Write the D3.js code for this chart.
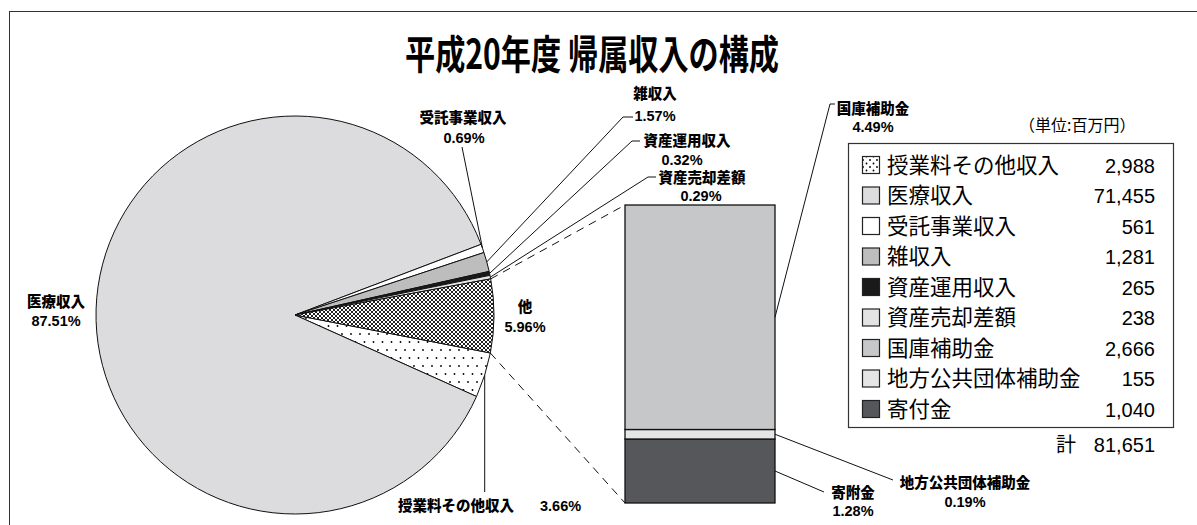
<!DOCTYPE html>
<html>
<head>
<meta charset="utf-8">
<script src="https://cdn.jsdelivr.net/npm/d3@7"></script>
<style>
  body { margin: 0; background: #fff; }
  svg { display: block; }
</style>
</head>
<body>
<script>
'use strict';

// legend order, values in 百万円 as printed
const categories = ['授業料その他収入', '医療収入', '受託事業収入', '雑収入', '資産運用収入',
    '資産売却差額', '国庫補助金', '地方公共団体補助金', '寄付金'];
const amounts = [2988, 71455, 561, 1281, 265, 238, 2666, 155, 1040];
const totalAmount = 81651;
// shares (%) as labelled on the chart
const shares = [3.66, 87.51, 0.69, 1.57, 0.32, 0.29, 4.49, 0.19, 1.28];
const otherName = '他';
const barNames = ['国庫補助金', '地方公共団体補助金', '寄附金'];   // label spelling in chart
const fills = ['url(#dots)', '#dcdcde', '#ffffff', '#bdbdbd', '#1a1a1a', '#e3e3e3', '#c6c7c9', '#e5e5e5', '#56575a'];

const JP = '"Noto Sans CJK JP", "Noto Sans", sans-serif';
const NUM = '"Liberation Sans Narrow", "Liberation Sans", Arial, sans-serif';

let svg = d3.select('body').append('svg').attr('width', 1197).attr('height', 525);
draw(svg);

function draw(svg)
{
    const defs = svg.append('defs');
    let p = defs.append('pattern').attr('id', 'dots').attr('patternUnits', 'userSpaceOnUse')
        .attr('width', 9).attr('height', 16);
    p.append('rect').attr('width', 9).attr('height', 16).attr('fill', '#fff');
    p.append('circle').attr('cx', 2).attr('cy', 3).attr('r', 0.9).attr('fill', '#000');
    p.append('circle').attr('cx', 6.5).attr('cy', 11).attr('r', 0.9).attr('fill', '#000');

    p = defs.append('pattern').attr('id', 'dotsSmall').attr('patternUnits', 'userSpaceOnUse')
        .attr('width', 7).attr('height', 7);
    p.append('rect').attr('width', 7).attr('height', 7).attr('fill', '#fff');
    p.append('circle').attr('cx', 2).attr('cy', 2).attr('r', 0.9).attr('fill', '#000');
    p.append('circle').attr('cx', 5.5).attr('cy', 5.5).attr('r', 0.9).attr('fill', '#000');

    p = defs.append('pattern').attr('id', 'check').attr('patternUnits', 'userSpaceOnUse')
        .attr('width', 4).attr('height', 4);
    p.append('rect').attr('width', 4).attr('height', 4).attr('fill', '#fff');
    p.append('rect').attr('width', 2).attr('height', 2).attr('fill', '#222');
    p.append('rect').attr('x', 2).attr('y', 2).attr('width', 2).attr('height', 2).attr('fill', '#222');

    // frame
    svg.append('rect').attr('x', 9.5).attr('y', 11.5).attr('width', 1200).attr('height', 600)
        .attr('fill', 'none').attr('stroke', '#333').attr('stroke-width', 1);

    svg.append('text')
        .attr('x', 592).attr('y', 69)
        .attr('text-anchor', 'middle')
        .attr('textLength', 374).attr('lengthAdjust', 'spacingAndGlyphs')
        .style('font', `bold 40px ${JP}`)
        .text('平成20年度 帰属収入の構成');

    // ---- pie ----
    const cx = 295, cy = 315, R = 199;
    const deg = Math.PI / 180;
    const start = 101 * deg;
    const otherShare = d3.sum(shares.slice(6));
    let pieData = categories.slice(0, 6).map((c, i) => ({name: c, share: shares[i], fill: fills[i]}));
    pieData.push({name: otherName, share: otherShare, fill: 'url(#check)'});

    const pie = d3.pie().sort(null).value(d => d.share)
        .startAngle(start).endAngle(start + 2 * Math.PI);
    const arcs = pie(pieData);
    const arc = d3.arc().innerRadius(0).outerRadius(R);

    const pieG = svg.append('g').attr('transform', `translate(${cx},${cy})`);
    pieG.selectAll('path').data(arcs).enter().append('path')
        .attr('d', arc)
        .attr('fill', d => d.data.fill)
        .attr('stroke', '#111').attr('stroke-width', 1)
        .attr('stroke-linejoin', 'round');

    const edge = a => [cx + R * Math.sin(a), cy - R * Math.cos(a)];
    const mid = d => edge((d.startAngle + d.endAngle) / 2);

    // ---- bar of "other" ----
    const bx0 = 625, bx1 = 775;
    const y = d3.scaleLinear().domain([0, otherShare]).range([503, 205]);
    let acc = 0;
    const barData = [8, 7, 6].map(i => {
        const d = {i: i, y0: acc, y1: acc + shares[i]};
        acc += shares[i];
        return d;
    });
    svg.append('g').selectAll('rect').data(barData).enter().append('rect')
        .attr('x', bx0).attr('width', bx1 - bx0)
        .attr('y', d => y(d.y1)).attr('height', d => y(d.y0) - y(d.y1))
        .attr('fill', d => fills[d.i])
        .attr('stroke', '#111').attr('stroke-width', 1.3);

    // dashed connectors
    const other = arcs[6];
    const line = d3.line();
    svg.append('path').attr('d', line([edge(other.startAngle), [bx0, y(otherShare)]]))
        .attr('fill', 'none').attr('stroke', '#111').attr('stroke-dasharray', '8,6');
    svg.append('path').attr('d', line([edge(other.endAngle), [bx0, y(0)]]))
        .attr('fill', 'none').attr('stroke', '#111').attr('stroke-dasharray', '8,6');

    // ---- labels ----
    const fmtPct = v => v.toFixed(2) + '%';
    const lab = svg.append('g');
    function label(name, pct, nx, ny, px, py, anchor)
    {
        lab.append('text').attr('x', nx).attr('y', ny).attr('text-anchor', anchor || 'middle')
            .style('font', `900 14.5px ${JP}`).text(name);
        lab.append('text').attr('x', px).attr('y', py).attr('text-anchor', anchor || 'middle')
            .style('font', `bold 14.5px ${NUM}`).text(pct);
    }
    function leader(pts)
    {
        lab.append('path').attr('d', line(pts)).attr('fill', 'none')
            .attr('stroke', '#111').attr('stroke-width', 1);
    }

    label(categories[1], fmtPct(shares[1]), 56, 307, 56, 326);
    label(categories[2], fmtPct(shares[2]), 463, 123, 464, 143);
    leader([mid(arcs[2]), [462, 147]]);
    label(categories[3], fmtPct(shares[3]), 655, 99, 655, 121);
    leader([mid(arcs[3]), [623, 117], [633, 117]]);
    label(categories[4], fmtPct(shares[4]), 687, 146, 682, 165);
    leader([mid(arcs[4]), [632, 141], [640, 141]]);
    label(categories[5], fmtPct(shares[5]), 702, 183, 701, 201);
    leader([mid(arcs[5]), [648, 177], [656, 177]]);
    label(otherName, fmtPct(otherShare), 525, 312, 525, 332);

    const m0 = mid(arcs[0]);
    leader([m0, [m0[0], 492]]);
    label(categories[0], fmtPct(shares[0]), 398, 511, 540, 511, 'start');

    const barMid = d => [bx1, (y(d.y0) + y(d.y1)) / 2];
    label(barNames[0], fmtPct(shares[6]), 873, 114, 873, 132);
    leader([barMid(barData[2]), [830, 104], [835, 104]]);
    label(barNames[1], fmtPct(shares[7]), 965, 488, 965, 507);
    leader([barMid(barData[1]), [893, 480]]);
    label(barNames[2], fmtPct(shares[8]), 853, 498, 853, 516);
    leader([barMid(barData[0]), [824, 492]]);

    // ---- legend ----
    svg.append('text').attr('x', 1019).attr('y', 131)
        .style('font', `16px ${JP}`).text('（単位:百万円）');

    svg.append('rect').attr('x', 848.5).attr('y', 143.5).attr('width', 325).attr('height', 284)
        .attr('fill', '#fff').attr('stroke', '#333').attr('stroke-width', 1.2);

    const rowY = d3.scalePoint().domain(categories).range([165, 409]);
    const fmt = d3.format(',');
    const rows = svg.append('g').selectAll('g').data(categories).enter().append('g')
        .attr('transform', d => `translate(0,${rowY(d)})`);
    rows.append('rect').attr('x', 862.5).attr('y', -8.5).attr('width', 17).attr('height', 17)
        .attr('fill', (d, i) => i === 0 ? 'url(#dotsSmall)' : fills[i])
        .attr('stroke', '#222').attr('stroke-width', 1.2);
    rows.append('text').attr('x', 887).attr('y', 7.5)
        .style('font', `21.5px ${JP}`).text(d => d);
    rows.append('text').attr('x', 1155).attr('y', 7.5).attr('text-anchor', 'end')
        .style('font', `20px ${NUM}`).text((d, i) => fmt(amounts[i]));

    svg.append('text').attr('x', 1056).attr('y', 452).style('font', `20px ${JP}`).text('計');
    svg.append('text').attr('x', 1155).attr('y', 452).attr('text-anchor', 'end')
        .style('font', `20px ${NUM}`).text(fmt(totalAmount));
}
</script>
</body>
</html>
